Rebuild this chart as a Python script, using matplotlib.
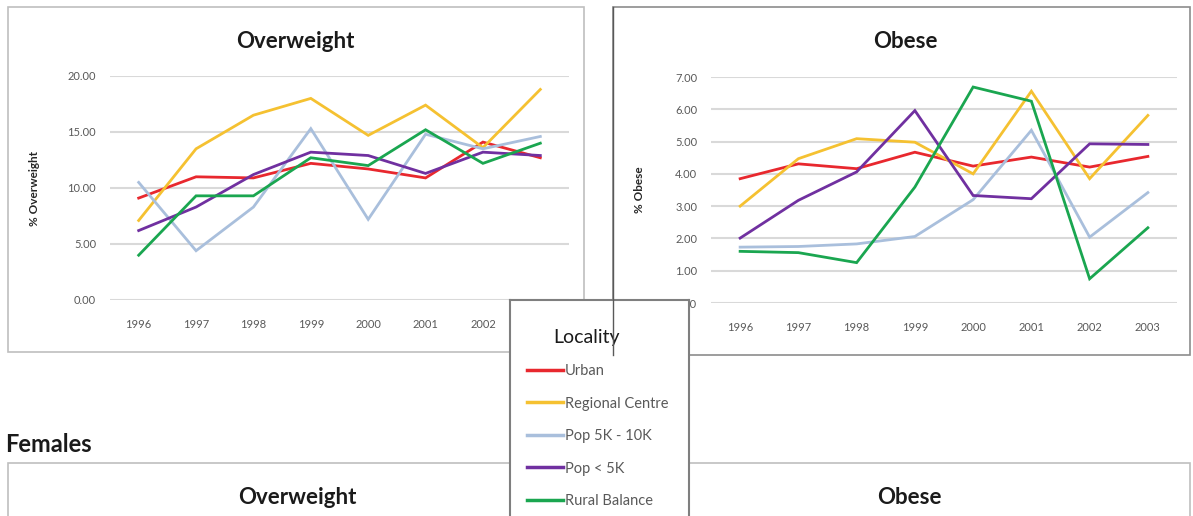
import matplotlib
matplotlib.use("Agg")
import matplotlib.pyplot as plt
from matplotlib.patches import Rectangle
from matplotlib.lines import Line2D

plt.rcParams["font.family"] = ["Lato", "DejaVu Sans"]

years = ["1996", "1997", "1998", "1999", "2000", "2001", "2002", "2003"]
localities = ["Urban", "Regional Centre", "Pop 5K - 10K", "Pop < 5K", "Rural Balance"]
colors = ["#e8282e", "#f5c131", "#a9bfdc", "#7030a0", "#1aa650"]

# % overweight (males)
ow_urban = [9.1, 11.0, 10.9, 12.2, 11.7, 10.9, 14.1, 12.7]
ow_regional = [7.1, 13.5, 16.5, 18.0, 14.7, 17.4, 13.6, 18.8]
ow_pop5_10 = [10.5, 4.4, 8.3, 15.3, 7.2, 14.8, 13.5, 14.6]
ow_pop_lt5 = [6.2, 8.3, 11.2, 13.2, 12.9, 11.3, 13.2, 12.9]
ow_rural = [4.0, 9.3, 9.3, 12.7, 12.0, 15.2, 12.2, 14.0]

# % obese (males)
ob_urban = [3.85, 4.31, 4.16, 4.67, 4.24, 4.52, 4.21, 4.54]
ob_regional = [3.00, 4.47, 5.09, 4.98, 4.00, 6.56, 3.85, 5.81]
ob_pop5_10 = [1.73, 1.75, 1.83, 2.06, 3.20, 5.35, 2.04, 3.42]
ob_pop_lt5 = [2.01, 3.18, 4.06, 5.96, 3.33, 3.23, 4.93, 4.91]
ob_rural = [1.60, 1.56, 1.25, 3.59, 6.69, 6.25, 0.75, 2.33]

W, H = 1193, 516


def rect(x0, y0, x1, y1):
    # pixel box (top-left origin) -> figure fraction
    return [x0 / W, 1 - y1 / H, (x1 - x0) / W, (y1 - y0) / H]


def box(fig, x0, y0, x1, y1, color, lw=1.2, z=1):
    r = Rectangle((x0 / W, 1 - y1 / H), (x1 - x0) / W, (y1 - y0) / H,
                  transform=fig.transFigure, fill=False, edgecolor=color, lw=lw, zorder=z)
    fig.patches.append(r)


def line_panel(ax, series, ymax, step, ylabel, label_x):
    lines = []
    for vals, c in zip(series, colors):
        ln, = ax.plot(range(len(years)), vals, color=c, lw=2.0, solid_joinstyle="miter")
        lines.append(ln)
    n = int(round(ymax / step)) + 1
    ax.set_xlim(-0.5, len(years) - 0.5)
    ax.set_ylim(0, ymax)
    ax.set_yticks([i * step for i in range(n)])
    ax.set_yticklabels(["%.2f" % (i * step) for i in range(n)])
    ax.set_xticks(range(len(years)))
    ax.set_xticklabels(years)
    ax.yaxis.grid(True, color="#d9d9d9", lw=1.5)
    ax.set_axisbelow(True)
    for s in ax.spines.values():
        s.set_visible(False)
    ax.tick_params(axis="both", length=0, labelsize=8, labelcolor="#595959")
    ax.tick_params(axis="y", pad=10)
    ax.tick_params(axis="x", pad=14)
    ax.set_ylabel(ylabel, fontsize=8.5, fontweight="bold", color="#262626")
    ax.yaxis.set_label_coords(label_x, 0.5)
    return lines


fig = plt.figure(figsize=(W / 100, H / 100), dpi=100)

# chart frames
box(fig, 8, 7, 584, 352, "#bfbfbf")
box(fig, 613, 7, 1190, 355, "#8c8c8c")
box(fig, 8, 463, 584, 560, "#bfbfbf")
box(fig, 613, 463, 1190, 560, "#bfbfbf")

ax1 = fig.add_axes(rect(110, 76, 569, 300))
lines = line_panel(ax1, [ow_urban, ow_regional, ow_pop5_10, ow_pop_lt5, ow_rural],
                   20, 5, "% Overweight", -0.153)

ax2 = fig.add_axes(rect(711, 77, 1177, 303))
line_panel(ax2, [ob_urban, ob_regional, ob_pop5_10, ob_pop_lt5, ob_rural],
           7, 1, "% Obese", -0.142)

fig.text(295 / W, 1 - 41 / H, "Overweight", ha="center", va="center",
         fontsize=16, fontweight="bold", color="#1a1a1a")
fig.text(905 / W, 1 - 41 / H, "Obese", ha="center", va="center",
         fontsize=16, fontweight="bold", color="#1a1a1a")

fig.text(5 / W, 1 - 445 / H, "Females", ha="left", va="center",
         fontsize=17, fontweight="bold", color="#1a1a1a")
fig.text(297 / W, 1 - 497 / H, "Overweight", ha="center", va="center",
         fontsize=16, fontweight="bold", color="#1a1a1a")
fig.text(909 / W, 1 - 497 / H, "Obese", ha="center", va="center",
         fontsize=16, fontweight="bold", color="#1a1a1a")

# legend panel
lax = fig.add_axes(rect(510, 300, 689, 530))
lax.set_zorder(5)
lax.set_facecolor("white")
lax.set_xticks([])
lax.set_yticks([])
for s in lax.spines.values():
    s.set_color("#7f7f7f")
    s.set_linewidth(1.5)
lax.text(0.43, 1 - 37 / 230, "Locality", transform=lax.transAxes,
         ha="center", va="center", fontsize=14, color="#1a1a1a")
leg = lax.legend(lines, localities, loc="upper left",
                 bbox_to_anchor=(17 / 179, 1 - 64 / 230), frameon=False,
                 borderpad=0, borderaxespad=0, fontsize=10.5,
                 handlelength=2.5, handletextpad=0.12, labelspacing=1.27)
for t in leg.get_texts():
    t.set_color("#595959")
for h in leg.get_lines():
    h.set_linewidth(2.5)

# obese frame edge sits over the legend in the original
fig.add_artist(Line2D([613 / W, 613 / W], [1 - 7 / H, 1 - 355 / H],
                      transform=fig.transFigure, color="#595959", lw=1.0, zorder=10))

fig.savefig("out.png", dpi=100)
